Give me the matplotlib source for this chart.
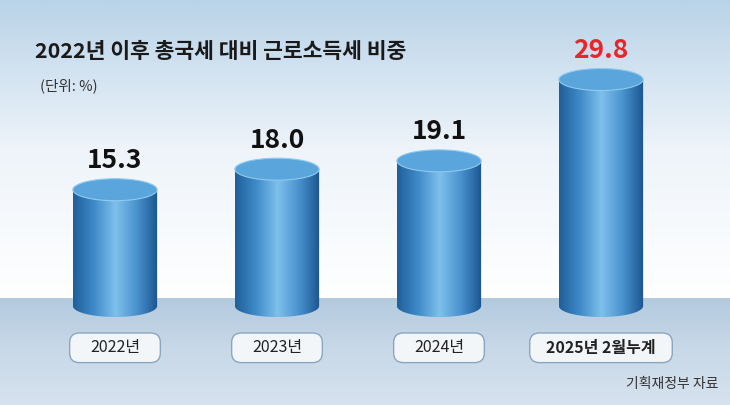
import numpy as np
import matplotlib
matplotlib.use("Agg")
import matplotlib.pyplot as plt
from matplotlib.patches import Ellipse, FancyBboxPatch, Path, PathPatch
from matplotlib.colors import LinearSegmentedColormap

plt.rcParams['font.family'] = ['Noto Sans CJK KR', 'DejaVu Sans']

categories = ['2022년', '2023년', '2024년', '2025년 2월누계']
values = [15.3, 18.0, 19.1, 29.8]
value_labels = ['15.3', '18.0', '19.1', '29.8']
title = '2022년 이후 총국세 대비 근로소득세 비중'
unit = '(단위: %)'
source = '기획재정부 자료'

fig = plt.figure(figsize=(7.3, 4.05), dpi=100)
ax = fig.add_axes([0, 0, 1, 1])
ppu = 7.6
ymin, ymax = -99 / ppu, 306 / ppu
xmin, xmax = -115 / 162, (730 - 115) / 162
ax.set_xlim(xmin, xmax); ax.set_ylim(ymin, ymax); ax.axis('off')

bg = LinearSegmentedColormap.from_list('bg', ['#b9d3e8', '#eef4fa', '#ffffff'])
grad = np.linspace(0, 1, 256).reshape(-1, 1)
ax.imshow(grad, extent=[xmin, xmax, 8 / ppu, ymax], cmap=bg, aspect='auto', origin='upper', zorder=0)
band = LinearSegmentedColormap.from_list('band', ['#b3cadf', '#c9d9e8', '#d6e2ee'])
ax.imshow(grad, extent=[xmin, xmax, ymin, 8 / ppu], cmap=band, aspect='auto', origin='upper', zorder=0)

w = 0.52
eh = 22 / ppu
cyl = LinearSegmentedColormap.from_list('cyl', ['#1f5f9a', '#3f8bc9', '#7fc0ec', '#4a93cf', '#1a5590'])
for i, v in enumerate(values):
    x0, x1 = i - w / 2, i + w / 2
    t = np.linspace(np.pi, 2 * np.pi, 40)
    bx = i + w / 2 * np.cos(t); by = 0 + eh / 2 * np.sin(t)
    verts = [(x0, v)] + list(zip(bx, by)) + [(x1, v), (x0, v)]
    patch = PathPatch(Path(verts), fc='none', ec='none')
    ax.add_patch(patch)
    hg = np.linspace(0, 1, 256).reshape(1, -1)
    im = ax.imshow(hg, extent=[x0, x1, -eh, v], cmap=cyl, aspect='auto', zorder=2)
    im.set_clip_path(patch)
    ax.add_patch(Ellipse((i, v), w, eh, fc='#5aa6dc', ec='#8fcaf0', lw=0.8, zorder=3))
    ax.text(i, v + eh / 2 + 0.6, value_labels[i], ha='center', va='bottom', fontsize=19,
            fontweight='bold', color='#e8262a' if i == 3 else '#111111', zorder=4)
    bw = 0.56 if i < 3 else 0.88
    bh = 3.9
    ax.add_patch(FancyBboxPatch((i - bw / 2, -5.5 - bh / 2), bw, bh,
                                boxstyle='round,pad=0,rounding_size=0.06',
                                fc='#f3f6f9', ec='#8aa6bf', lw=1, zorder=3,
                                mutation_aspect=162 / ppu))
    ax.text(i, -5.5, categories[i], ha='center', va='center', fontsize=11.5,
            fontweight='bold' if i == 3 else 'normal', color='#222222', zorder=4)

fig.text(35 / 730, 1 - 52 / 405, title, fontsize=15.5, fontweight='bold', color='#1a1a1a', va='center')
fig.text(40 / 730, 1 - 86 / 405, unit, fontsize=10.5, color='#333333', va='center')
fig.text(718 / 730, 1 - 384 / 405, source, fontsize=10, color='#333333', va='center', ha='right')

fig.savefig('out.png', dpi=100)
